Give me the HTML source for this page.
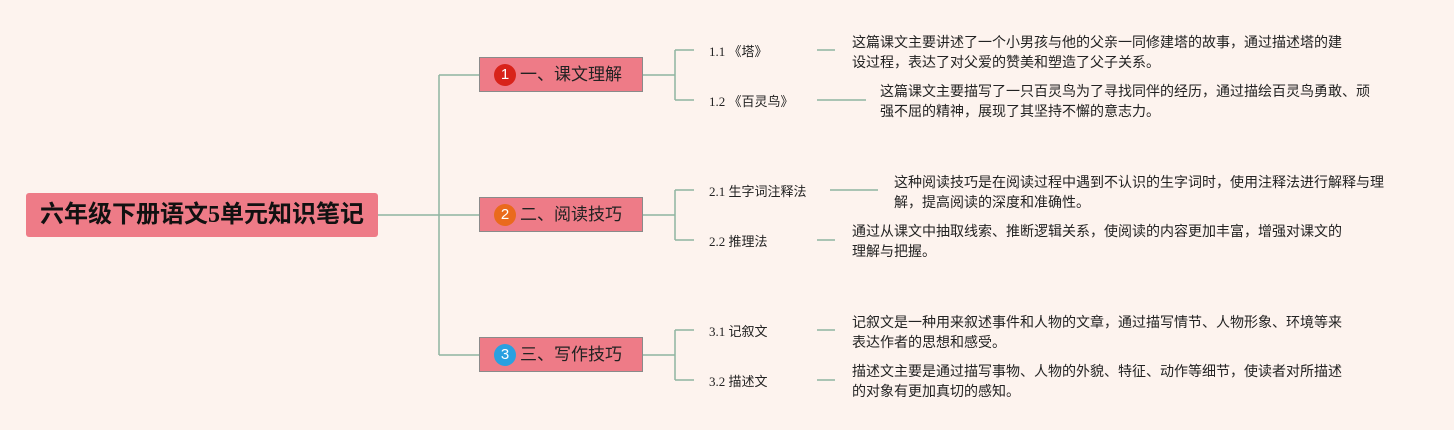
<!DOCTYPE html>
<html><head><meta charset="utf-8"><style>
body{margin:0;width:1454px;height:430px;background:#fdf3ee;position:relative;overflow:hidden;font-family:"Liberation Serif","Noto Sans CJK SC",sans-serif;}
.a{position:absolute;white-space:nowrap;color:#222}
.root{position:absolute;left:26px;top:193px;width:352px;height:44px;background:#ee7b87;border-radius:3px;font:bold 24px "Liberation Serif","Noto Sans CJK SC",sans-serif;color:#111;line-height:44px;text-align:center}
.br{position:absolute;left:479px;width:164px;height:35px;background:#ee7b87;border:1px solid #8a8a8a;box-sizing:border-box;font:17px "Liberation Sans","Noto Sans CJK SC",sans-serif;color:#222;line-height:33px;padding-left:40px}
.c{position:absolute;left:14px;top:6px;width:22px;height:22px;border-radius:50%;color:#fff;font-size:15px;line-height:22px;text-align:center}
.l{font-size:13px}
.d{font-size:14px;line-height:20px;font-family:"Liberation Sans","Noto Sans CJK SC",sans-serif}
</style></head><body>
<svg width="1454" height="430" style="position:absolute;left:0;top:0" fill="none" stroke="#8fb5a0" stroke-width="1.5">
<path d="M378 215H479M439 75V355M439 75H479M439 355H479"/>
<path d="M643 75H675M675 50V100M675 50H694M675 100H694"/>
<path d="M643 215H675M675 190V240M675 190H694M675 240H694"/>
<path d="M643 355H675M675 330V380M675 330H694M675 380H694"/>
<path d="M817 50H835M817 100H866M830 190H878M817 240H835M817 330H835M817 380H835"/>
</svg>
<div class="root">六年级下册语文5单元知识笔记</div>
<div class="br" style="top:57px"><span class="c" style="background:#d8231a">1</span>一、课文理解</div>
<div class="br" style="top:197px"><span class="c" style="background:#ea6a1d">2</span>二、阅读技巧</div>
<div class="br" style="top:337px"><span class="c" style="background:#2aa0e0">3</span>三、写作技巧</div>
<div class="a l" style="left:709px;top:41px">1.1 《塔》</div>
<div class="a l" style="left:709px;top:91px">1.2 《百灵鸟》</div>
<div class="a l" style="left:709px;top:181px">2.1 生字词注释法</div>
<div class="a l" style="left:709px;top:231px">2.2 推理法</div>
<div class="a l" style="left:709px;top:321px">3.1 记叙文</div>
<div class="a l" style="left:709px;top:371px">3.2 描述文</div>
<div class="a d" style="left:852px;top:32px">这篇课文主要讲述了一个小男孩与他的父亲一同修建塔的故事，通过描述塔的建<br>设过程，表达了对父爱的赞美和塑造了父子关系。</div>
<div class="a d" style="left:880px;top:81px">这篇课文主要描写了一只百灵鸟为了寻找同伴的经历，通过描绘百灵鸟勇敢、顽<br>强不屈的精神，展现了其坚持不懈的意志力。</div>
<div class="a d" style="left:894px;top:172px">这种阅读技巧是在阅读过程中遇到不认识的生字词时，使用注释法进行解释与理<br>解，提高阅读的深度和准确性。</div>
<div class="a d" style="left:852px;top:221px">通过从课文中抽取线索、推断逻辑关系，使阅读的内容更加丰富，增强对课文的<br>理解与把握。</div>
<div class="a d" style="left:852px;top:312px">记叙文是一种用来叙述事件和人物的文章，通过描写情节、人物形象、环境等来<br>表达作者的思想和感受。</div>
<div class="a d" style="left:852px;top:361px">描述文主要是通过描写事物、人物的外貌、特征、动作等细节，使读者对所描述<br>的对象有更加真切的感知。</div>
</body></html>
